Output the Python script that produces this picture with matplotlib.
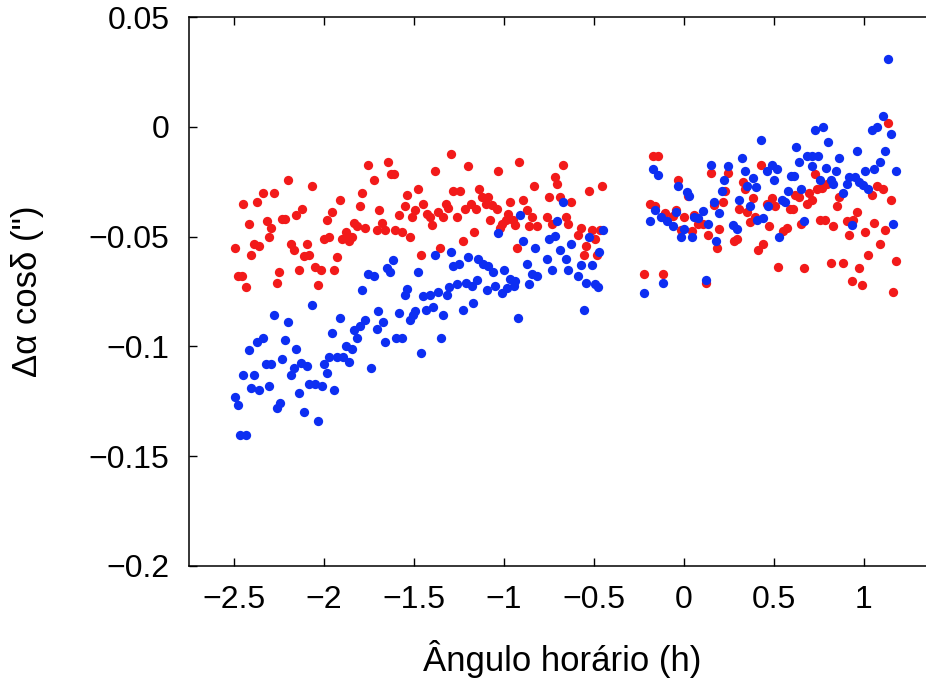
import numpy as np
import matplotlib
matplotlib.use("Agg")
import matplotlib.pyplot as plt

# Hour angle (h) and delta-alpha cos(delta) (arcsec) for the two series
red_h = [
    -1.754, -1.721, -2.202, -2.065, -2.337, -2.276, -1.787, -2.452, -2.374, -1.911,
    -1.800, -2.124, -1.693, -2.156, -1.954, -1.985, -2.418, -2.318, -2.294, -2.235,
    -2.217, -1.832, -1.815, -1.772, -1.707, -1.878, -2.307, -2.002, -1.972, -1.898,
    -1.865, -1.843, -1.859, -2.494, -2.391, -2.359, -2.183, -2.167, -2.096, -2.406,
    -2.109, -2.082, -1.926, -2.476, -2.457, -2.248, -2.139, -2.050, -2.017, -1.943,
    -2.435, -2.263, -2.032,
    -1.294, -1.643, -1.202, -1.032, -0.915, -1.628, -1.609, -1.382, -1.476, -1.537,
    -1.282, -1.244, -1.139, -1.448, -1.550, -1.494, -1.322, -1.309, -1.185, -1.217,
    -1.156, -1.124, -1.087, -1.100, -1.065, -1.041, -0.967, -0.976, -1.585, -1.509,
    -1.429, -1.411, -1.368, -1.337, -1.259, -1.078, -1.013, -0.991, -0.952, -0.939,
    -1.676, -1.661, -1.402, -1.606, -1.568, -1.522, -1.167, -1.229, -1.356, -1.463,
    -0.929, -1.022,
    -0.674, -0.717, -0.704, -0.832, -0.528, -0.454, -0.748, -0.689, -0.629, -0.893,
    -0.874, -0.843, -0.859, -0.815, -0.763, -0.735, -0.656, -0.643, -0.572, -0.587,
    -0.513, -0.494, -0.467, -0.544, -0.556, -0.485,
    -0.174, -0.143, 0.428, 0.150, 0.243, -0.032, 0.326, 0.339, 0.228, 0.024,
    0.382, 0.487, 0.459, 0.506, -0.189, -0.161, 0.215, 0.168, -0.044, -0.106,
    -0.059, 0.057, 0.000, 0.307, 0.352, 0.394, 0.367, 0.076, 0.107, -0.017,
    0.043, 0.194, 0.472, 0.135, 0.278, 0.296, 0.182, 0.441, 0.413, 0.524,
    -0.221, -0.115, 0.122,
    1.132, 0.728, 0.793, 0.765, 0.737, 1.071, 1.107, 0.694, 0.617, 0.641,
    0.861, 1.046, 0.709, 0.682, 1.150, 0.848, 0.589, 0.607, 0.963, 0.941,
    0.756, 0.783, 0.904, 0.648, 0.829, 1.057, 1.117, 0.571, 0.552, 0.917,
    1.006, 1.089, 1.021, 1.178, 0.668, 0.817, 0.885, 0.974, 0.932, 0.991,
    1.163,
]
red_da = [
    -0.0173, -0.0241, -0.0241, -0.0271, -0.0301, -0.0301, -0.0301, -0.0350, -0.0342, -0.0332,
    -0.0362, -0.0373, -0.0380, -0.0403, -0.0388, -0.0423, -0.0441, -0.0430, -0.0460, -0.0420,
    -0.0420, -0.0438, -0.0450, -0.0460, -0.0468, -0.0480, -0.0501, -0.0510, -0.0501, -0.0509,
    -0.0499, -0.0501, -0.0521, -0.0551, -0.0532, -0.0541, -0.0532, -0.0559, -0.0532, -0.0582,
    -0.0590, -0.0582, -0.0592, -0.0680, -0.0680, -0.0662, -0.0650, -0.0640, -0.0650, -0.0650,
    -0.0729, -0.0710, -0.0720,
    -0.0123, -0.0162, -0.0180, -0.0201, -0.0162, -0.0214, -0.0214, -0.0203, -0.0282, -0.0312,
    -0.0291, -0.0291, -0.0282, -0.0350, -0.0362, -0.0380, -0.0350, -0.0370, -0.0350, -0.0373,
    -0.0373, -0.0320, -0.0320, -0.0350, -0.0358, -0.0373, -0.0341, -0.0395, -0.0403, -0.0410,
    -0.0395, -0.0412, -0.0390, -0.0410, -0.0412, -0.0423, -0.0441, -0.0426, -0.0423, -0.0445,
    -0.0438, -0.0468, -0.0445, -0.0468, -0.0480, -0.0501, -0.0480, -0.0521, -0.0551, -0.0582,
    -0.0551, -0.0460,
    -0.0173, -0.0229, -0.0260, -0.0271, -0.0291, -0.0271, -0.0321, -0.0320, -0.0342, -0.0332,
    -0.0380, -0.0410, -0.0450, -0.0450, -0.0412, -0.0441, -0.0410, -0.0441, -0.0460, -0.0491,
    -0.0468, -0.0510, -0.0471, -0.0541, -0.0582, -0.0582,
    -0.0132, -0.0132, -0.0173, -0.0210, -0.0210, -0.0241, -0.0251, -0.0283, -0.0291, -0.0317,
    -0.0324, -0.0324, -0.0350, -0.0362, -0.0350, -0.0362, -0.0342, -0.0355, -0.0377, -0.0392,
    -0.0405, -0.0400, -0.0412, -0.0374, -0.0390, -0.0412, -0.0433, -0.0442, -0.0442, -0.0468,
    -0.0476, -0.0464, -0.0453, -0.0492, -0.0521, -0.0510, -0.0551, -0.0533, -0.0559, -0.0640,
    -0.0670, -0.0670, -0.0710,
    0.0017, -0.0214, -0.0259, -0.0279, -0.0282, -0.0271, -0.0282, -0.0301, -0.0309, -0.0320,
    -0.0320, -0.0312, -0.0335, -0.0350, -0.0332, -0.0362, -0.0373, -0.0373, -0.0390, -0.0423,
    -0.0423, -0.0423, -0.0430, -0.0441, -0.0450, -0.0438, -0.0471, -0.0460, -0.0476, -0.0491,
    -0.0479, -0.0532, -0.0582, -0.0609, -0.0642, -0.0620, -0.0620, -0.0642, -0.0700, -0.0721,
    -0.0751,
]

blue_h = [
    -1.754, -1.721, -1.787, -2.065, -2.278, -2.202, -1.911, -1.772, -1.698, -1.707,
    -1.800, -1.832, -1.815, -1.956, -2.374, -2.337, -2.218, -2.418, -2.154, -1.878,
    -1.844, -2.322, -2.294, -2.233, -2.126, -2.093, -2.168, -2.183, -1.998, -1.971,
    -1.926, -1.896, -1.859, -1.985, -1.741, -2.452, -2.391, -2.406, -2.359, -2.307,
    -2.139, -2.082, -2.050, -2.013, -1.943, -2.494, -2.478, -2.244, -2.263, -2.109,
    -2.032, -2.467, -2.435,
    -0.911, -1.383, -1.294, -1.202, -1.618, -1.648, -1.633, -1.282, -1.248, -1.143,
    -1.118, -1.087, -1.059, -0.998, -1.476, -0.967, -0.939, -0.944, -1.541, -1.550,
    -1.448, -1.411, -1.365, -1.318, -1.304, -1.259, -1.211, -1.179, -1.152, -1.096,
    -1.050, -1.013, -0.985, -1.032, -1.585, -1.494, -1.507, -1.522, -1.433, -1.396,
    -1.337, -1.229, -1.171, -1.674, -1.600, -1.568, -1.661, -1.352, -1.463, -0.922,
    -0.674, -0.704, -0.717, -0.748, -0.893, -0.829, -0.689, -0.629, -0.528, -0.452,
    -0.471, -0.763, -0.657, -0.874, -0.574, -0.513, -0.732, -0.643, -0.846, -0.815,
    -0.587, -0.859, -0.544, -0.494, -0.479, -0.556,
    0.428, 0.324, 0.150, 0.243, 0.487, 0.515, 0.459, -0.174, -0.143, 0.339,
    0.382, 0.224, 0.502, -0.032, 0.352, 0.398, 0.015, 0.029, 0.209, 0.307,
    0.167, 0.367, 0.468, -0.161, -0.044, 0.107, 0.194, -0.128, -0.096, -0.189,
    0.057, 0.076, 0.404, 0.441, -0.059, 0.000, 0.135, 0.274, 0.293, -0.017,
    0.043, 0.178, 0.528, -0.115, 0.122, -0.221,
    1.132, 1.104, 1.150, 1.043, 1.074, 0.728, 0.771, 0.802, 0.622, 0.963,
    1.117, 0.682, 0.709, 0.743, 0.861, 0.639, 1.089, 0.709, 0.789, 1.057,
    1.006, 1.176, 0.846, 0.594, 0.613, 0.756, 0.817, 0.829, 0.917, 0.950,
    0.904, 0.974, 0.996, 1.024, 0.650, 0.576, 0.885, 0.543, 0.561, 0.668,
    0.932, 1.163,
]
blue_da = [
    -0.0670, -0.0680, -0.0741, -0.0810, -0.0859, -0.0890, -0.0871, -0.0880, -0.0841, -0.0920,
    -0.0908, -0.0927, -0.0960, -0.0941, -0.0979, -0.0960, -0.0970, -0.1018, -0.1010, -0.0999,
    -0.1010, -0.1079, -0.1079, -0.1059, -0.1076, -0.1090, -0.1100, -0.1130, -0.1079, -0.1049,
    -0.1049, -0.1049, -0.1070, -0.1120, -0.1099, -0.1130, -0.1130, -0.1190, -0.1200, -0.1180,
    -0.1210, -0.1170, -0.1170, -0.1180, -0.1200, -0.1229, -0.1268, -0.1259, -0.1279, -0.1299,
    -0.1338, -0.1405, -0.1405,
    -0.0400, -0.0582, -0.0571, -0.0592, -0.0608, -0.0642, -0.0662, -0.0632, -0.0623, -0.0600,
    -0.0623, -0.0632, -0.0662, -0.0650, -0.0660, -0.0692, -0.0703, -0.0723, -0.0738, -0.0764,
    -0.0771, -0.0768, -0.0753, -0.0764, -0.0729, -0.0718, -0.0710, -0.0726, -0.0699, -0.0741,
    -0.0726, -0.0759, -0.0733, -0.0483, -0.0850, -0.0840, -0.0859, -0.0880, -0.0832, -0.0820,
    -0.0859, -0.0832, -0.0801, -0.0890, -0.0960, -0.0960, -0.0980, -0.0960, -0.1029, -0.0870,
    -0.0342, -0.0430, -0.0499, -0.0510, -0.0521, -0.0551, -0.0559, -0.0532, -0.0501, -0.0468,
    -0.0571, -0.0600, -0.0600, -0.0623, -0.0630, -0.0630, -0.0650, -0.0650, -0.0670, -0.0680,
    -0.0680, -0.0718, -0.0710, -0.0718, -0.0729, -0.0832,
    -0.0062, -0.0142, -0.0173, -0.0180, -0.0173, -0.0191, -0.0203, -0.0191, -0.0221, -0.0203,
    -0.0233, -0.0244, -0.0244, -0.0271, -0.0271, -0.0274, -0.0299, -0.0317, -0.0294, -0.0332,
    -0.0342, -0.0362, -0.0362, -0.0380, -0.0390, -0.0382, -0.0392, -0.0410, -0.0430, -0.0430,
    -0.0410, -0.0415, -0.0423, -0.0415, -0.0453, -0.0464, -0.0442, -0.0449, -0.0464, -0.0501,
    -0.0501, -0.0521, -0.0501, -0.0710, -0.0699, -0.0759,
    0.0308, 0.0047, -0.0033, -0.0014, -0.0003, -0.0014, -0.0003, -0.0071, -0.0092, -0.0112,
    -0.0112, -0.0132, -0.0132, -0.0132, -0.0142, -0.0162, -0.0162, -0.0180, -0.0188, -0.0192,
    -0.0203, -0.0203, -0.0203, -0.0223, -0.0223, -0.0241, -0.0241, -0.0260, -0.0229, -0.0229,
    -0.0259, -0.0253, -0.0264, -0.0282, -0.0282, -0.0294, -0.0301, -0.0332, -0.0342, -0.0430,
    -0.0449, -0.0441,
]

plt.rcParams['font.family'] = ['Liberation Sans', 'DejaVu Sans']

fig = plt.figure(figsize=(9.26, 6.78), dpi=100)
# axes run past the right edge of the figure, as in the original
ax = fig.add_axes([0.2041, 0.1652, 0.8261, 0.8097])

ax.plot(red_h, red_da, 'o', color='#f21a1a', markersize=6.7, markeredgewidth=0)
ax.plot(blue_h, blue_da, 'o', color='#0d2ef2', markersize=6.7, markeredgewidth=0)

ax.set_xlim(-2.75, 1.5)
ax.set_ylim(-0.2, 0.05)
ax.set_xticks([-2.5, -2, -1.5, -1, -0.5, 0, 0.5, 1])
ax.set_xticklabels(['\u22122.5', '\u22122', '\u22121.5', '\u22121', '\u22120.5', '0', '0.5', '1'])
ax.set_yticks([-0.2, -0.15, -0.1, -0.05, 0, 0.05])
ax.set_yticklabels(['\u22120.2', '\u22120.15', '\u22120.1', '\u22120.05', '0', '0.05'])

ax.tick_params(direction='in', top=True, right=True, length=6, width=1.0,
               labelsize=23)
ax.tick_params(axis='x', pad=14)
ax.tick_params(axis='y', pad=14)
for s in ax.spines.values():
    s.set_linewidth(1.1)

ax.set_xlabel('\u00c2ngulo hor\u00e1rio (h)', fontsize=25)
ax.xaxis.set_label_coords(0.488, -0.135)
ax.set_ylabel('\u0394\u03b1 cos\u03b4 (")', fontsize=25)
ax.yaxis.set_label_coords(-0.19, 0.5)

fig.savefig('out.png', dpi=100)
